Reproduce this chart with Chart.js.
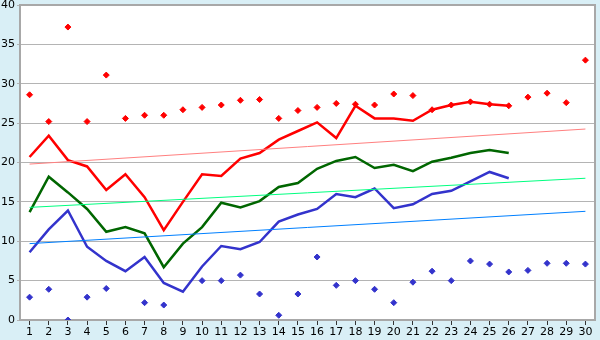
<!DOCTYPE html>
<html>
<head>
<meta charset="utf-8">
<script src="https://cdn.jsdelivr.net/npm/chart.js@4.4.1/dist/chart.umd.min.js"></script>
<style>
html,body{margin:0;padding:0;background:#d9eff6;}
#wrap{width:600px;height:340px;}
</style>
</head>
<body>
<div id="wrap"><canvas id="c" width="600" height="340"></canvas></div>
<script>
const categories = ['1','2','3','4','5','6','7','8','9','10','11','12','13','14','15','16','17','18','19','20','21','22','23','24','25','26','27','28','29','30'];
const yTicks = [0,5,10,15,20,25,30,35,40];

const redLine = [20.7,23.4,20.3,19.5,16.5,18.5,15.6,11.4,15.0,18.5,18.3,20.5,21.2,22.9,24.0,25.1,23.1,27.2,25.6,25.6,25.3,26.7,27.3,27.7,27.4,27.2,null,null,null,null];
const greenLine = [13.7,18.2,16.2,14.1,11.2,11.8,11.0,6.7,9.7,11.8,14.9,14.3,15.1,16.9,17.4,19.2,20.2,20.7,19.3,19.7,18.9,20.1,20.6,21.2,21.6,21.2,null,null,null,null];
const blueLine = [8.6,11.5,13.9,9.3,7.5,6.2,8.0,4.7,3.6,6.8,9.4,9.0,9.9,12.5,13.4,14.1,16.0,15.6,16.7,14.2,14.7,16.0,16.4,17.6,18.8,18.0,null,null,null,null];
const redPoints = [28.6,25.2,37.2,25.2,31.1,25.6,26.0,26.0,26.7,27.0,27.3,27.9,28.0,25.6,26.6,27.0,27.5,27.4,27.3,28.7,28.5,26.7,27.3,27.7,27.4,27.2,28.3,28.8,27.6,33.0];
const bluePoints = [2.9,3.9,0.0,2.9,4.0,null,2.2,1.9,null,5.0,5.0,5.7,3.3,0.6,3.3,8.0,4.4,5.0,3.9,2.2,4.8,6.2,5.0,7.5,7.1,6.1,6.3,7.2,7.2,7.1];
// trend lines: only first and last value
const redTrend = [19.8,null,null,null,null,null,null,null,null,null,null,null,null,null,null,null,null,null,null,null,null,null,null,null,null,null,null,null,null,24.25];
const greenTrend = [14.3,null,null,null,null,null,null,null,null,null,null,null,null,null,null,null,null,null,null,null,null,null,null,null,null,null,null,null,null,18.0];
const blueTrend = [9.7,null,null,null,null,null,null,null,null,null,null,null,null,null,null,null,null,null,null,null,null,null,null,null,null,null,null,null,null,13.8];

const bgPlugin = {
  id: 'bg',
  beforeDraw(chart) {
    const {ctx, chartArea: a} = chart;
    ctx.save();
    ctx.fillStyle = '#d9eff6';
    ctx.fillRect(0, 0, chart.width, chart.height);
    ctx.fillStyle = '#ffffff';
    ctx.fillRect(a.left, a.top, a.right - a.left, a.bottom - a.top);
    ctx.restore();
  },
  afterDatasetsDraw(chart) {
    const {ctx, chartArea: a} = chart;
    ctx.save();
    ctx.strokeStyle = '#a8a8a8';
    ctx.lineWidth = 2;
    ctx.beginPath();
    ctx.moveTo(a.left, a.top);
    ctx.lineTo(a.right, a.top);
    ctx.lineTo(a.right, a.bottom);
    ctx.stroke();
    ctx.restore();
  }
};

const lineDs = (data, color, w) => ({
  type: 'line', data, borderColor: color, backgroundColor: color, borderWidth: w,
  pointRadius: 0, pointHoverRadius: 0, fill: false, tension: 0, spanGaps: true
});
const ptDs = (data, color) => ({
  type: 'line', data, showLine: false, borderColor: color, backgroundColor: color,
  pointStyle: 'rectRot', pointRadius: 3, pointBorderWidth: 1, pointHoverRadius: 3
});

new Chart(document.getElementById('c'), {
  type: 'line',
  data: {
    labels: categories,
    datasets: [
      lineDs(redTrend, '#ff8080', 1),
      lineDs(greenTrend, '#00ff80', 1),
      lineDs(blueTrend, '#0080ff', 1),
      ptDs(redPoints, '#ff0000'),
      ptDs(bluePoints, '#3333cc'),
      lineDs(redLine, '#ff0000', 2.5),
      lineDs(greenLine, '#006600', 2.5),
      lineDs(blueLine, '#3333cc', 2.5)
    ]
  },
  options: {
    responsive: false,
    animation: false,
    devicePixelRatio: 1,
    layout: {padding: {top: 5, right: 5, left: 0, bottom: 0}},
    plugins: {legend: {display: false}, tooltip: {enabled: false}},
    scales: {
      x: {
        offset: true,
        grid: {display: true, drawOnChartArea: false, drawTicks: true, tickLength: 5, color: '#333333', offset: false},
        border: {display: true, color: '#a8a8a8', width: 2},
        ticks: {color: '#000', font: {family: 'DejaVu Sans', size: 11}, padding: 1, maxRotation: 0, autoSkip: false},
        afterFit(s) { s.height = 20; s.paddingLeft = 0; s.paddingRight = 0; }
      },
      y: {
        min: 0, max: 40,
        afterBuildTicks(s) { s.ticks = yTicks.map(v => ({value: v})); },
        grid: {color: '#b4b4b4', lineWidth: 1, drawTicks: true, tickLength: 3},
        border: {display: true, color: '#a8a8a8', width: 2},
        ticks: {color: '#000', font: {family: 'DejaVu Sans', size: 11}, padding: 2},
        afterFit(s) { s.width = 20; s.paddingTop = 0; s.paddingBottom = 0; }
      }
    }
  },
  plugins: [bgPlugin]
});
</script>
</body>
</html>
